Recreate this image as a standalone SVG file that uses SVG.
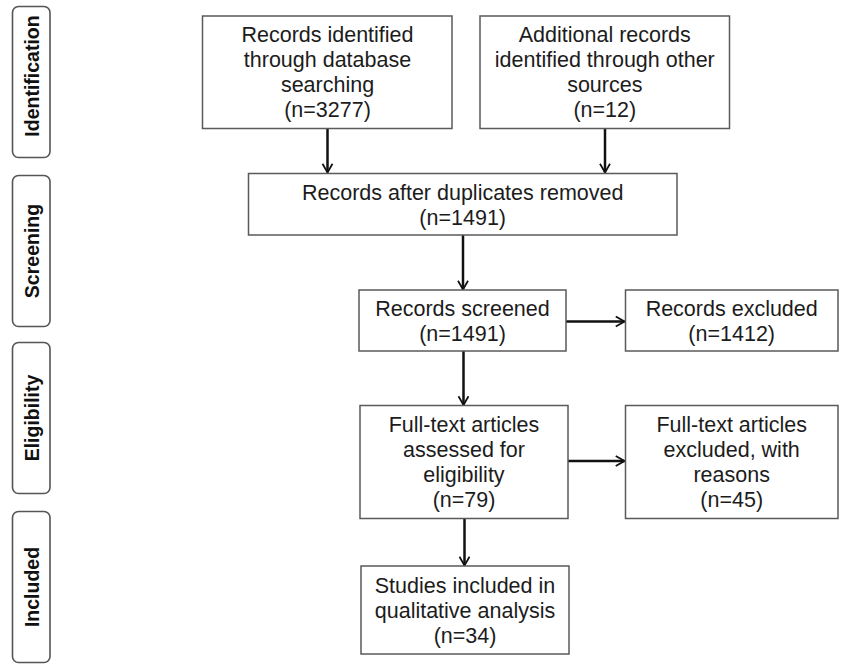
<svg xmlns="http://www.w3.org/2000/svg" width="846" height="664" viewBox="0 0 846 664">
<defs>
<style>
.box{fill:#fff;stroke:#5a5a5a;stroke-width:1.5}
.phase{fill:#fff;stroke:#555;stroke-width:1.6}
.t{font-family:"Liberation Sans",Arial,sans-serif;font-size:21.5px;fill:#1c1c1c;text-anchor:middle}
.p{font-family:"Liberation Sans",Arial,sans-serif;font-size:19.5px;font-weight:bold;fill:#111;text-anchor:middle}
.c{stroke:#111;stroke-width:2.5;fill:none;marker-end:url(#ah)}
</style>
<marker id="ah" viewBox="0 0 10 10" refX="9" refY="5" markerWidth="5" markerHeight="5" orient="auto" markerUnits="strokeWidth">
<path d="M2,1 L9,5 L2,9" fill="none" stroke="#111" stroke-width="1.4" stroke-linejoin="miter"/>
</marker>
</defs>
<rect width="846" height="664" fill="#fff"/>

<g id="phase-identification">
<rect class="phase" x="12.5" y="6.5" width="37.5" height="151" rx="6"/>
<text class="p" transform="translate(38.5,76) rotate(-90)">Identification</text>
</g>
<g id="phase-screening">
<rect class="phase" x="12.5" y="175.5" width="37.5" height="151" rx="6"/>
<text class="p" transform="translate(38.5,251) rotate(-90)">Screening</text>
</g>
<g id="phase-eligibility">
<rect class="phase" x="12.5" y="342.5" width="37.5" height="151" rx="6"/>
<text class="p" transform="translate(38.5,418) rotate(-90)">Eligibility</text>
</g>
<g id="phase-included">
<rect class="phase" x="12.5" y="511.5" width="37.5" height="151" rx="6"/>
<text class="p" transform="translate(38.5,587) rotate(-90)">Included</text>
</g>

<g id="connectors">
<line class="c" x1="327.5" y1="128.5" x2="327.5" y2="172.5"/>
<line class="c" x1="605" y1="128.5" x2="605" y2="172.5"/>
<line class="c" x1="463" y1="235" x2="463" y2="289.5"/>
<line class="c" x1="566" y1="321.5" x2="624.5" y2="321.5"/>
<line class="c" x1="463.5" y1="351" x2="463.5" y2="405"/>
<line class="c" x1="568" y1="461" x2="624.5" y2="461"/>
<line class="c" x1="464.5" y1="518.5" x2="464.5" y2="565.5"/>
</g>

<g id="records-database">
<rect class="box" x="202.5" y="16" width="249.5" height="112.5"/>
<text class="t" x="327.5" y="42.3">Records identified</text>
<text class="t" x="327.5" y="67.3">through database</text>
<text class="t" x="327.5" y="92.3">searching</text>
<text class="t" x="327.5" y="117.3">(n=3277)</text>
</g>
<g id="records-other">
<rect class="box" x="480" y="16" width="249.5" height="112.5"/>
<text class="t" x="604.8" y="42.3">Additional records</text>
<text class="t" x="604.8" y="67.3">identified through other</text>
<text class="t" x="604.8" y="92.3">sources</text>
<text class="t" x="604.8" y="117.3">(n=12)</text>
</g>
<g id="records-deduplicated">
<rect class="box" x="248.5" y="173.5" width="428.5" height="61.5"/>
<text class="t" x="462.7" y="199.5">Records after duplicates removed</text>
<text class="t" x="462.7" y="224.5">(n=1491)</text>
</g>
<g id="records-screened">
<rect class="box" x="359" y="290" width="207" height="61"/>
<text class="t" x="462.5" y="316">Records screened</text>
<text class="t" x="462.5" y="341">(n=1491)</text>
</g>
<g id="records-excluded">
<rect class="box" x="625.5" y="290" width="212.5" height="61"/>
<text class="t" x="731.7" y="316">Records excluded</text>
<text class="t" x="731.7" y="341">(n=1412)</text>
</g>
<g id="fulltext-assessed">
<rect class="box" x="360" y="405.5" width="208" height="113"/>
<text class="t" x="464" y="431.7">Full-text articles</text>
<text class="t" x="464" y="456.7">assessed for</text>
<text class="t" x="464" y="481.7">eligibility</text>
<text class="t" x="464" y="506.7">(n=79)</text>
</g>
<g id="fulltext-excluded">
<rect class="box" x="625.5" y="405.5" width="212.5" height="113"/>
<text class="t" x="731.7" y="431.7">Full-text articles</text>
<text class="t" x="731.7" y="456.7">excluded, with</text>
<text class="t" x="731.7" y="481.7">reasons</text>
<text class="t" x="731.7" y="506.7">(n=45)</text>
</g>
<g id="studies-included">
<rect class="box" x="361" y="566" width="208" height="88"/>
<text class="t" x="465" y="592.5">Studies included in</text>
<text class="t" x="465" y="617.5">qualitative analysis</text>
<text class="t" x="465" y="642.5">(n=34)</text>
</g>
</svg>
